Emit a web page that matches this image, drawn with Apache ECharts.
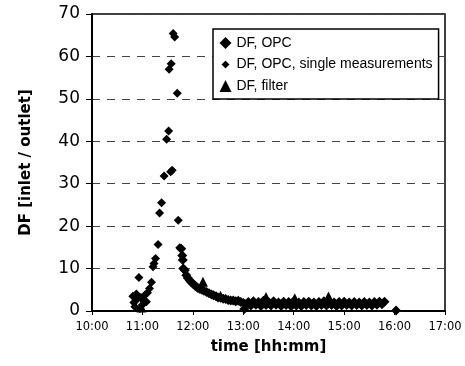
<!DOCTYPE html>
<html>
<head>
<meta charset="utf-8">
<script src="https://cdn.jsdelivr.net/npm/echarts@6/dist/echarts.min.js"></script>
<style>
  html, body { margin: 0; padding: 0; background: #fff; }
  #chart { width: 465px; height: 366px; }
</style>
</head>
<body>
<div id="chart"></div>
<script>
// time in hours (10.5 = 10:30), DF = inlet / outlet
var opcData = [
  [11.77, 14.7], [11.79, 13.1], [11.80, 12.0], [11.81, 10.0], [11.84, 9.6],
  [11.87, 8.4], [11.90, 7.8], [11.94, 7.2], [11.97, 6.8], [12.00, 6.4],
  [12.04, 6.0], [12.07, 5.7], [12.10, 5.4], [12.14, 5.2], [12.18, 5.0],
  [12.22, 4.8], [12.27, 4.5], [12.32, 4.2], [12.37, 3.9], [12.41, 3.7],
  [12.46, 3.5], [12.50, 3.2], [12.55, 3.1], [12.60, 2.9], [12.65, 2.8],
  [12.70, 2.6], [12.75, 2.5], [12.80, 2.5], [12.85, 2.3], [12.90, 2.4],
  [12.95, 2.1], [13.00, 1.9], [13.02, 0.5], [13.05, 1.6], [13.10, 2.1],
  [13.15, 1.3], [13.20, 2.3], [13.25, 1.5], [13.30, 2.1], [13.35, 1.2],
  [13.40, 2.4], [13.45, 1.4], [13.50, 2.1], [13.55, 1.3], [13.60, 2.3],
  [13.65, 1.5], [13.70, 2.0], [13.75, 1.2], [13.80, 2.2], [13.85, 1.4],
  [13.90, 2.1], [13.95, 1.1], [14.00, 2.3], [14.05, 1.3], [14.10, 2.0],
  [14.15, 1.2], [14.20, 2.1], [14.25, 1.4], [14.30, 2.2], [14.35, 1.3],
  [14.40, 2.0], [14.45, 1.2], [14.50, 2.1], [14.55, 1.4], [14.60, 2.3],
  [14.65, 1.3], [14.70, 2.2], [14.75, 1.4], [14.80, 2.0], [14.85, 1.2],
  [14.90, 2.1], [14.95, 1.3], [15.00, 2.2], [15.05, 1.4], [15.10, 2.0],
  [15.15, 1.3], [15.20, 2.1], [15.25, 1.4], [15.30, 2.0], [15.35, 1.3],
  [15.40, 2.1], [15.45, 1.4], [15.50, 2.0], [15.55, 1.3], [15.60, 2.1],
  [15.65, 1.5], [15.70, 2.2], [15.75, 1.6], [15.80, 2.2], [16.03, 0.1]
];

var singleData = [
  [10.81, 3.5], [10.83, 2.0], [10.85, 1.0], [10.88, 4.0], [10.90, 2.8],
  [10.93, 7.9], [10.95, 0.6], [10.97, 3.2], [11.00, 1.5], [11.02, 2.5],
  [11.05, 3.8], [11.08, 2.2], [11.10, 4.3], [11.14, 5.3], [11.18, 6.8],
  [11.21, 10.4], [11.23, 11.2], [11.26, 12.4], [11.31, 15.7], [11.34, 23.1],
  [11.38, 25.5], [11.43, 31.8], [11.48, 40.5], [11.52, 42.4], [11.53, 57.0],
  [11.56, 32.8], [11.57, 58.3], [11.59, 33.2], [11.61, 65.4], [11.64, 64.6],
  [11.69, 51.3], [11.71, 21.4], [11.74, 14.9]
];

var filterData = [
  [10.98, 0.8], [12.20, 6.9], [12.55, 3.6], [13.45, 3.3], [14.02, 3.0], [14.69, 3.4]
];

var seriesNames = ['DF, OPC', 'DF, OPC, single measurements', 'DF, filter'];
var xTicks = ['10:00', '11:00', '12:00', '13:00', '14:00', '15:00', '16:00', '17:00'];

var chart = echarts.init(document.getElementById('chart'));

chart.setOption({
  animation: false,
  textStyle: { fontFamily: 'DejaVu Sans', color: '#000' },
  grid: {
    left: 92, right: 20, top: 14, bottom: 55,
    show: true, borderColor: '#000', borderWidth: 1.5
  },
  legend: {
    orient: 'vertical',
    left: 213, top: 29,
    padding: [7, 6, 6, 5],
    itemGap: 7,
    itemWidth: 12, itemHeight: 12,
    backgroundColor: '#fff',
    borderColor: '#000', borderWidth: 1.5,
    textStyle: { fontFamily: 'Liberation Sans', fontSize: 14, color: '#000' },
    data: [
      { name: seriesNames[0], icon: 'diamond' },
      { name: seriesNames[1], icon: 'diamond', itemStyle: { borderColor: '#fff', borderWidth: 3 } },
      { name: seriesNames[2], icon: 'triangle' }
    ]
  },
  xAxis: {
    type: 'value',
    min: 10, max: 17, interval: 1,
    name: 'time [hh:mm]',
    nameLocation: 'middle',
    nameGap: 29,
    nameTextStyle: { fontSize: 15, fontWeight: 'bold', color: '#000' },
    axisLine: { lineStyle: { color: '#000', width: 2 } },
    axisTick: { inside: false, length: 4, lineStyle: { color: '#000' } },
    axisLabel: {
      fontSize: 11.5, color: '#000', margin: 10,
      formatter: function (v) { return xTicks[Math.round(v - 10)]; }
    },
    splitLine: { show: false }
  },
  yAxis: {
    type: 'value',
    min: 0, max: 70, interval: 10,
    name: 'DF [inlet / outlet]',
    nameLocation: 'middle',
    nameGap: 58,
    nameTextStyle: { fontSize: 15, fontWeight: 'bold', color: '#000' },
    axisLine: { lineStyle: { color: '#000', width: 2 } },
    axisTick: { inside: false, length: 6, lineStyle: { color: '#000' } },
    axisLabel: { fontSize: 17, color: '#000', margin: 12 },
    splitLine: { show: true, lineStyle: { color: '#444', type: [8, 7], width: 1 } }
  },
  series: [
    {
      name: seriesNames[0],
      type: 'scatter',
      symbol: 'diamond',
      symbolSize: 10,
      itemStyle: { color: '#000', opacity: 1 },
      data: opcData
    },
    {
      name: seriesNames[1],
      type: 'scatter',
      symbol: 'diamond',
      symbolSize: 9,
      itemStyle: { color: '#000', opacity: 1 },
      data: singleData
    },
    {
      name: seriesNames[2],
      type: 'scatter',
      symbol: 'triangle',
      symbolSize: 10,
      itemStyle: { color: '#000', opacity: 1 },
      data: filterData
    }
  ]
});
</script>
</body>
</html>
